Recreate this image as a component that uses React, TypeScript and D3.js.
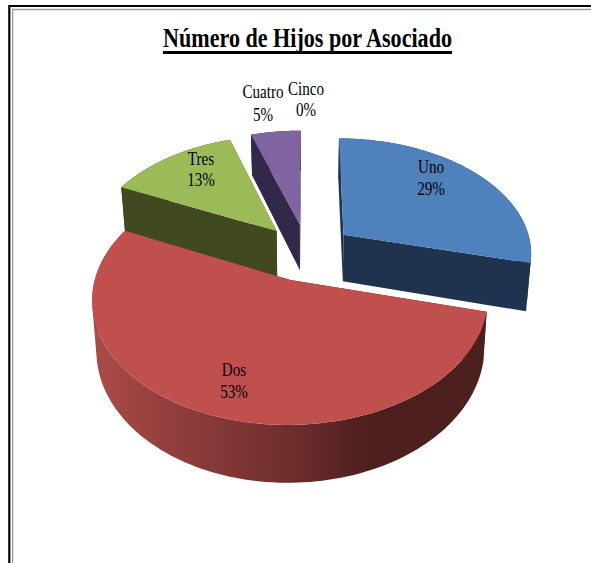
import React from "react";
import * as d3 from "d3";

// Share of members by number of children
const categories = ["Uno", "Dos", "Tres", "Cuatro", "Cinco"];
const percentages = [29, 53, 13, 5, 0];
const topColors = ["#4f81bd", "#c0504d", "#9bbb59", "#8064a2", "#4bacc6"];
const wallColors = ["#1f334e", "#4d1f1d", "#40491f", "#32284a", "#1f4a56"];
const chartTitle = "Número de Hijos por Asociado";

// Slices are painted back to front so nearer ones overlap farther ones
const paintOrder = [4, 3, 2, 0, 1];

// Label anchor (centre x, baseline of first line) for each category
const labelX = [431, 234, 201, 263, 306];
const labelY = [173, 376, 165, 98, 95];
const labelLineGaps = [22, 22, 21, 23, 21];

const WIDTH = 591;
const HEIGHT = 563;
const CX = 307;
const CY = 252;
const RADIUS = 189;
const TILT = 0.608;
const PERSPECTIVE = 0.145;
const DEPTH = 47.5;
const BOTTOM_SHRINK = 0.98;
const EXPLODE = 0.25;

type Pt = [number, number];

// Projects a point of the unit disc (level 0 = top face, 1 = bottom face) to the screen
function project(X: number, Y: number, level: number): Pt {
  const p = 1 / (1 + PERSPECTIVE * Y);
  const sx = RADIUS * X * p;
  const sy = -RADIUS * TILT * Y * p;
  const shrink = level ? BOTTOM_SHRINK : 1;
  return [CX + sx * shrink, CY + sy + DEPTH * p * level];
}

const pieAngles = d3
  .pie<number>()
  .sort(null)
  .startAngle(0)
  .endAngle(2 * Math.PI)(percentages);

const toPath = d3.line<Pt>().curve(d3.curveLinear);

// Closed quad with a fixed winding, so overlapping strips never cancel out
function quad(a: Pt, b: Pt, c: Pt, d: Pt): string {
  const pts = [a, b, c, d];
  return toPath(d3.polygonArea(pts) < 0 ? pts.reverse() : pts)! + "Z";
}

function App() {
  const slices = paintOrder
    .map((i) => {
      const a = pieAngles[i];
      if (a.endAngle - a.startAngle <= 0) return null;
      const mid = (a.startAngle + a.endAngle) / 2;
      const ox = EXPLODE * Math.sin(mid);
      const oy = EXPLODE * Math.cos(mid);
      const rim = (t: number, level: number) =>
        project(ox + Math.sin(t), oy + Math.cos(t), level);
      const apex = (level: number) => project(ox, oy, level);
      const steps = d3.range(0, 121).map((k) => a.startAngle + ((a.endAngle - a.startAngle) * k) / 120);
      const topRim = steps.map((t) => rim(t, 0));
      const bottomRim = steps.map((t) => rim(t, 1));
      const top = toPath([apex(0), ...topRim])! + "Z";
      const outer = d3
        .pairs(d3.range(steps.length))
        .map(([k, n]) => quad(topRim[k], topRim[n], bottomRim[n], bottomRim[k]))
        .join("");
      const face = (t: number) =>
        toPath([apex(0), rim(t, 0), rim(t, 1), apex(1)])! + "Z";
      return {
        i,
        top,
        outer,
        startFace: face(a.startAngle),
        endFace: face(a.endAngle),
      };
    })
    .filter(Boolean) as {
    i: number;
    top: string;
    outer: string;
    startFace: string;
    endFace: string;
  }[];

  return (
    <svg
      width={WIDTH}
      height={HEIGHT}
      viewBox={`0 0 ${WIDTH} ${HEIGHT}`}
      style={{ position: "absolute", left: 0, top: 0, display: "block", background: "#fff" }}
      fontFamily="'Liberation Serif', serif"
    >
      <defs>
        <linearGradient id="dosWall" x1="0" x2="1" y1="0" y2="0">
          <stop offset="0" stopColor="#ab4b48" />
          <stop offset="0.19" stopColor="#943f3d" />
          <stop offset="0.5" stopColor="#6e2e2d" />
          <stop offset="0.7" stopColor="#4d1f1d" />
          <stop offset="1" stopColor="#4d1f1d" />
        </linearGradient>
      </defs>

      {/* Double frame, open on the right and at the bottom */}
      <path d={`M${WIDTH} 6H9.3V${HEIGHT}`} fill="none" stroke="#000" strokeWidth={2.2} />
      <path d={`M${WIDTH} 9.5H12.6V${HEIGHT}`} fill="none" stroke="#9a9a9a" strokeWidth={1.3} />

      <text
        x={307.5}
        y={47}
        textAnchor="middle"
        fontSize={28}
        fontWeight="bold"
        textLength={289}
        lengthAdjust="spacingAndGlyphs"
      >
        {chartTitle}
      </text>
      <line x1={163} x2={452} y1={52.5} y2={52.5} stroke="#000" strokeWidth={3} />

      {slices.map((s) => (
        <g key={categories[s.i]}>
          <path d={s.startFace} fill={wallColors[s.i]} />
          <path d={s.endFace} fill={wallColors[s.i]} />
          <path d={s.outer} fill={s.i === 1 ? "url(#dosWall)" : wallColors[s.i]} />
          <path d={s.top} fill={topColors[s.i]} />
        </g>
      ))}

      {categories.map((c, i) => (
        <text
          key={c}
          transform={`translate(${labelX[i]},${labelY[i]}) scale(0.84,1)`}
          textAnchor="middle"
          fontSize={18}
          fill="#000"
        >
          <tspan x={0} y={0}>
            {c}
          </tspan>
          <tspan x={0} y={labelLineGaps[i]}>
            {`${percentages[i]}%`}
          </tspan>
        </text>
      ))}
    </svg>
  );
}

export default App;
